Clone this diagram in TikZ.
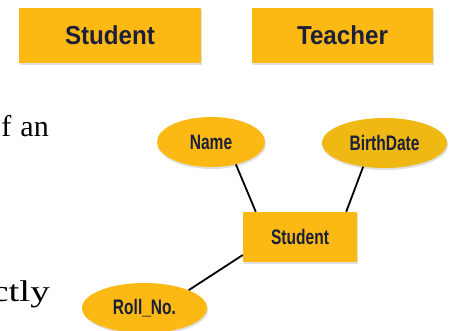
\documentclass[tikz,border=0pt]{standalone}
\usepackage{fontspec}
\setmainfont{Liberation Serif}
\newfontfamily\labelfont{Liberation Sans}
\usetikzlibrary{shapes.geometric,shadows}
\definecolor{erfill}{HTML}{FDB913}
\definecolor{erfilltwo}{HTML}{EFB812}
\definecolor{ertext}{HTML}{1B1F3B}
\tikzset{
  ershadow/.style={drop shadow={opacity=0.25,shadow xshift=1pt,shadow yshift=-2pt}},
  bigentity/.style={rectangle,fill=erfill,ershadow,inner sep=0pt,
    minimum width=182pt,minimum height=55pt,text=ertext,
    font=\labelfont\bfseries\fontsize{26}{30}\selectfont},
  entity/.style={rectangle,fill=erfill,ershadow,inner sep=0pt,
    minimum width=114pt,minimum height=50pt,text=ertext},
  attrib/.style={ellipse,fill=erfill,ershadow,inner sep=0pt,
    minimum width=108pt,minimum height=50pt,text=ertext},
  small/.style={font=\labelfont\bfseries\fontsize{21}{24}\selectfont},
  conn/.style={draw=black,line width=1.8pt},
  bodytext/.style={inner sep=0pt,font=\fontsize{30}{36}\selectfont,text=black}
}
\newcommand{\narrowtext}[1]{\scalebox{0.74}[1]{#1}}
\newcommand{\widetext}[1]{\scalebox{0.93}[1]{#1}}
\begin{document}
\begin{tikzpicture}[x=1pt,y=-1pt]
  \useasboundingbox (0,0) rectangle (454,331);
  \clip (0,0) rectangle (454,331);
  \fill[white] (0,0) rectangle (454,331);

  \node[bigentity] (s1) at (110,35.5) {\widetext{Student}};
  \node[bigentity,minimum width=181pt] (t1) at (342.5,35.5) {\widetext{Teacher}};

  \node[bodytext,anchor=base east] (txta) at (49,137) {f\hspace{9pt}an};
  \node[bodytext,anchor=base east] (txtb) at (50,301) {\scalebox{1.3}[1]{ctly}};

  \node[attrib,small] (name) at (211,142) {\narrowtext{Name}};
  \node[attrib,small,minimum width=125pt,fill=erfilltwo] (bd) at (384.5,143) {\narrowtext{BirthDate}};
  \node[entity,small] (st) at (300,237) {\narrowtext{Student}};
  \node[attrib,small,minimum width=125pt] (roll) at (144.5,308) {\narrowtext{Roll\_No.}};

  \draw[conn] (name.318) -- ([xshift=13pt]st.north west);
  \draw[conn] (bd.228) -- ([xshift=-11pt]st.north east);
  \draw[conn] (roll.22) -- ([yshift=-18pt]st.west);
\end{tikzpicture}
\end{document}
